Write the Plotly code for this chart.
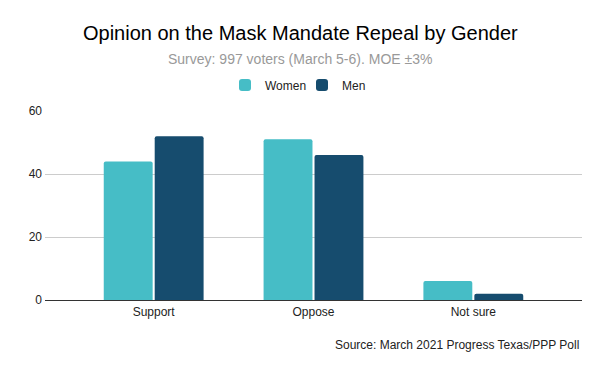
import plotly.graph_objects as go

categories = ["Support", "Oppose", "Not sure"]
women = [44, 51, 6]
men = [52, 46, 2]
y_ticks = [0, 20, 40, 60]

# page body adds an 8px offset; work in screen pixels and convert
OFF = 8
W, H = 600, 371
PL, PR, PT, PB = 45, 582, 111, 300  # plot area in screen pixels
L = PL - OFF
T = PT - OFF
pw = PR - PL
ph = PB - PT
R = W - L - pw
B = H - T - ph

def px_x(x):
    return (x - PL) / pw

def px_y(y):
    return (PB - y) / ph

fig = go.Figure()
fig.add_trace(go.Bar(name="Women", x=categories, y=women,
                     marker=dict(color="#46bdc6", line_width=0, cornerradius=2)))
fig.add_trace(go.Bar(name="Men", x=categories, y=men,
                     marker=dict(color="#164c6e", line_width=0, cornerradius=2)))

font_family = "Liberation Sans, Arial, sans-serif"

fig.update_layout(
    width=W, height=H,
    margin=dict(l=L, r=R, t=T, b=B, autoexpand=False),
    paper_bgcolor="white", plot_bgcolor="white",
    barmode="group", bargap=0.3625, bargroupgap=0.04,
    font=dict(family=font_family, size=12, color="#222222"),
    showlegend=True,
    legend=dict(orientation="h", x=px_x(302), xanchor="center", y=px_y(85), yanchor="middle",
                font=dict(size=12, color="#222222"), itemwidth=30, traceorder="normal",
                entrywidth=32),
    xaxis=dict(range=[-0.68, 2.68], showgrid=False, showline=False, ticks="",
               tickfont=dict(size=12, color="#222222"), ticklabelstandoff=3),
    yaxis=dict(range=[0, 60], tickvals=y_ticks, showgrid=True, gridcolor="#cccccc",
               gridwidth=1, zeroline=True, zerolinecolor="#333333", zerolinewidth=1,
               showline=False, ticks="", tickfont=dict(size=12, color="#222222"),
               ticklabelstandoff=2),
    annotations=[
        dict(text="Opinion on the Mask Mandate Repeal by Gender", xref="paper", yref="paper",
             x=px_x(300), y=px_y(33), xanchor="center", yanchor="middle", showarrow=False,
             font=dict(size=20, color="#000000", family=font_family)),
        dict(text="Survey: 997 voters (March 5-6). MOE ±3%", xref="paper", yref="paper",
             x=px_x(300), y=px_y(59), xanchor="center", yanchor="middle", showarrow=False,
             font=dict(size=14, color="#999999", family=font_family)),
        dict(text="Source: March 2021 Progress Texas/PPP Poll", xref="paper", yref="paper",
             x=px_x(581), y=px_y(345), xanchor="right", yanchor="middle", showarrow=False,
             font=dict(size=12, color="#222222", family=font_family)),
    ],
)

fig.write_html("out.html")
